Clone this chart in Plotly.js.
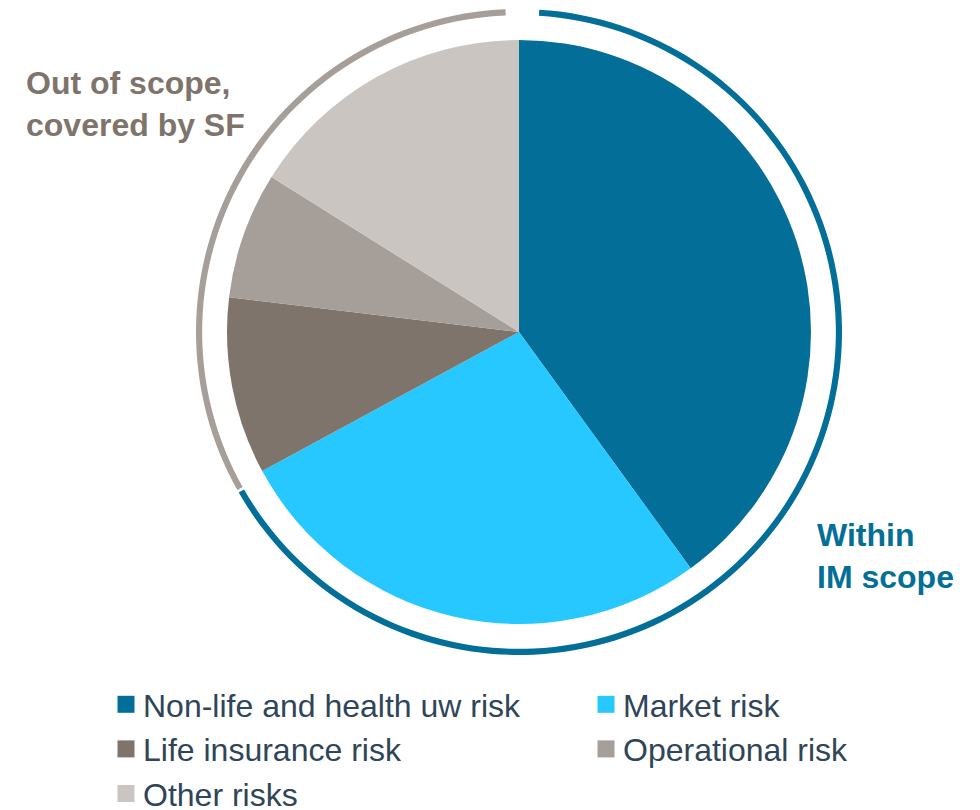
<!DOCTYPE html>
<html>
<head>
<meta charset="utf-8">
<script src="https://cdn.plot.ly/plotly-3.0.1.min.js"></script>
<style>html,body{margin:0;padding:0;background:#fff;}#chart{width:980px;height:810px;}</style>
</head>
<body>
<div id="chart"></div>
<script>
// Risk categories and their share (%) of the pie
var categories = ['Non-life and health uw risk', 'Market risk', 'Life insurance risk', 'Operational risk', 'Other risks'];
var shares = [40.0, 27.1, 9.8, 7.0, 16.1];
var sliceColors = ['#036F98', '#26C8FF', '#7F746B', '#A69E98', '#CBC5C1'];

// Outer scope ring (degrees of arc)
var ringLabels = ['Within IM scope', 'gap-a', 'Out of scope, covered by SF', 'gap-b'];
var ringValues = [236.6, 0.5, 116.9, 6.0];
var ringColors = ['#036F98', 'rgba(0,0,0,0)', '#A69E98', 'rgba(0,0,0,0)'];
var ringStart = 3.6;

var W = 980, H = 810;
function dx(a, b) { return [a / W, b / W]; }
function dy(top, bottom) { return [1 - bottom / H, 1 - top / H]; }

var pie = {
  type: 'pie',
  labels: categories,
  values: shares,
  marker: { colors: sliceColors, line: { width: 0 } },
  sort: false,
  direction: 'clockwise',
  rotation: 0,
  textinfo: 'none',
  hoverinfo: 'none',
  domain: { x: dx(227, 811), y: dy(40, 624) },
  showlegend: true
};

var ring = {
  type: 'pie',
  labels: ringLabels,
  values: ringValues,
  marker: { colors: ringColors, line: { width: 0 } },
  sort: false,
  direction: 'clockwise',
  rotation: ringStart,
  hole: 0.981,
  textinfo: 'none',
  hoverinfo: 'none',
  domain: { x: dx(196, 842), y: dy(9, 655) },
  showlegend: false
};

var layout = {
  width: W, height: H,
  margin: { l: 0, r: 0, t: 0, b: 0, autoexpand: false },
  paper_bgcolor: '#ffffff',
  plot_bgcolor: '#ffffff',
  font: { family: 'Liberation Sans, Arial, sans-serif' },
  showlegend: true,
  legend: {
    orientation: 'h',
    x: 103 / W, xanchor: 'left',
    y: 1 - 677 / H, yanchor: 'top',
    entrywidth: 435, entrywidthmode: 'pixels',
    font: { family: 'Liberation Sans, Arial, sans-serif', size: 32, color: '#2F4558' },
    traceorder: 'normal',
    bgcolor: 'rgba(0,0,0,0)'
  },
  annotations: [
    { text: '<b>Out of scope,<br>covered by SF</b>', xref: 'paper', yref: 'paper',
      x: 24 / W, y: 1 - 104 / H, xanchor: 'left', yanchor: 'middle', align: 'left',
      showarrow: false, font: { family: 'Liberation Sans, Arial, sans-serif', size: 32, color: '#7F746B' } },
    { text: '<b>Within<br>IM scope</b>', xref: 'paper', yref: 'paper',
      x: 815 / W, y: 1 - 556 / H, xanchor: 'left', yanchor: 'middle', align: 'left',
      showarrow: false, font: { family: 'Liberation Sans, Arial, sans-serif', size: 32, color: '#036F98' } }
  ]
};

Plotly.newPlot('chart', [pie, ring], layout, { displayModeBar: false, staticPlot: true }).then(function () {
  // enlarge legend swatches to match the reference squares (about 17px)
  var pts = document.querySelectorAll('.legend .legendpoints path');
  pts.forEach(function (p) {
    var b = p.getBBox();
    var cx = b.x + b.width / 2 + 3, cy = b.y + b.height / 2, h = 8.5;
    p.setAttribute('d', 'M' + (cx - h) + ',' + (cy - h) + 'H' + (cx + h) + 'V' + (cy + h) + 'H' + (cx - h) + 'Z');
    p.style.strokeWidth = '0px';
  });
});
</script>
</body>
</html>
